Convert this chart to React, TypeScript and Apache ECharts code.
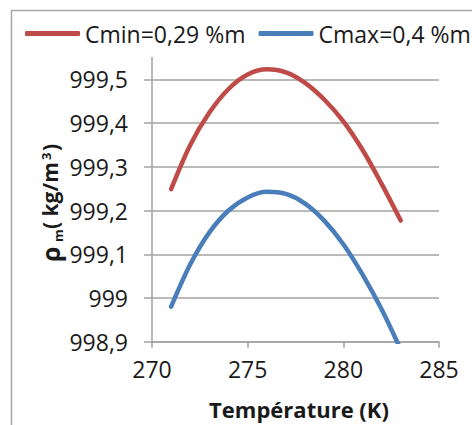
import React, { useEffect, useRef } from "react";
import * as echarts from "echarts";

const temperatures = [271, 272, 273, 274, 275, 276, 277, 278, 279, 280, 281, 282, 283];
const cminValues = [999.249, 999.35, 999.424, 999.478, 999.511, 999.523, 999.516, 999.492, 999.454, 999.404, 999.339, 999.261, 999.177];
const cmaxValues = [998.98, 999.077, 999.15, 999.2, 999.23, 999.243, 999.238, 999.216, 999.177, 999.123, 999.054, 998.974, 998.882];
const seriesNames = ["Cmin=0,29 %m", "Cmax=0,4 %m"];
const yTicks = [998.9, 999.0, 999.1, 999.2, 999.3, 999.4, 999.5];
const xTitle = "Température (K)";

const FONT = "'Open Sans', 'Noto Sans', sans-serif";
const TEXT = "#1a1a1a";
const GRID = "#a3a3a3";

export default function App() {
  const ref = useRef<HTMLDivElement>(null);
  useEffect(() => {
    if (!ref.current) return;
    const chart = echarts.init(ref.current, undefined, { renderer: "svg" });
    const fmt = (v: number) => String(Number(v.toFixed(2))).replace(".", ",");
    chart.setOption({
      animation: false,
      backgroundColor: "#ffffff",
      textStyle: { fontFamily: FONT },
      legend: {
        data: seriesNames,
        left: 25,
        top: 22,
        padding: 0,
        icon: "roundRect",
        itemWidth: 55,
        itemHeight: 5,
        itemGap: 13,
        textStyle: { fontSize: 23, color: TEXT, fontFamily: FONT },
      },
      grid: { left: 152, right: 33, top: 57.5, bottom: 83.3, containLabel: false, outerBoundsMode: "none" },
      xAxis: {
        type: "value",
        min: 270,
        max: 285,
        interval: 5,
        name: xTitle,
        nameLocation: "middle",
        nameGap: 56,
        nameTextStyle: { fontSize: 22, fontWeight: "bold", color: TEXT, fontFamily: FONT, padding: [0, 0, 0, 7] },
        axisLine: { show: true, lineStyle: { color: GRID, width: 1.5 } },
        axisTick: { show: true, length: 6, lineStyle: { color: GRID, width: 1.5 } },
        axisLabel: { fontSize: 23, color: TEXT, margin: 16, fontFamily: FONT },
        splitLine: { show: false },
      },
      yAxis: {
        type: "value",
        min: 998.9,
        max: 999.55,
        interval: 0.1,
        axisLine: { show: true, lineStyle: { color: GRID, width: 1.5 } },
        axisTick: { show: true, length: 8, customValues: yTicks, lineStyle: { color: GRID, width: 1.5 } },
        axisLabel: {
          fontSize: 23,
          color: TEXT,
          margin: 24,
          fontFamily: FONT,
          customValues: yTicks,
          formatter: (v: number) => fmt(v),
        },
        splitLine: { show: true, lineStyle: { color: GRID, width: 1.5 } },
      },
      graphic: [
        {
          type: "rect",
          shape: { x: 11.5, y: 10.5, width: 600, height: 600 },
          style: { fill: "none", stroke: "#a6a6a6", lineWidth: 1.5 },
          silent: true,
          z: -10,
        },
        {
          type: "group",
          x: 50,
          y: 263,
          rotation: Math.PI / 2,
          children: [
            { type: "text", x: 1, y: 0, style: { text: "ρ", font: `bold 25px ${FONT}`, fill: TEXT, verticalAlign: "middle", align: "left" } },
            { type: "text", x: 21, y: 7.5, style: { text: "m", font: `bold 13px ${FONT}`, fill: TEXT, verticalAlign: "middle", align: "left" } },
            { type: "text", x: 34, y: 0, style: { text: "( kg/m", font: `bold 21px ${FONT}`, fill: TEXT, verticalAlign: "middle", align: "left" } },
            { type: "text", x: 103, y: -4, style: { text: "3", font: `bold 13px ${FONT}`, fill: TEXT, verticalAlign: "middle", align: "left" } },
            { type: "text", x: 112, y: 0, style: { text: ")", font: `bold 21px ${FONT}`, fill: TEXT, verticalAlign: "middle", align: "left" } },
          ],
        },
      ],
      series: [
        {
          name: seriesNames[0],
          type: "line",
          smooth: 0.33,
          showSymbol: false,
          symbol: "none",
          clip: true,
          data: temperatures.map((t, i) => [t, cminValues[i]]),
          itemStyle: { color: "#BE4B48" },
          lineStyle: { color: "#BE4B48", width: 4.5, cap: "round" },
        },
        {
          name: seriesNames[1],
          type: "line",
          smooth: 0.33,
          showSymbol: false,
          symbol: "none",
          clip: true,
          data: temperatures.map((t, i) => [t, cmaxValues[i]]),
          itemStyle: { color: "#4A7EBB" },
          lineStyle: { color: "#4A7EBB", width: 4.5, cap: "round" },
        },
      ],
    });
    return () => chart.dispose();
  }, []);
  return (
    <div
      ref={ref}
      style={{ position: "absolute", left: 0, top: 0, width: 472, height: 425, background: "#fff" }}
    />
  );
}
